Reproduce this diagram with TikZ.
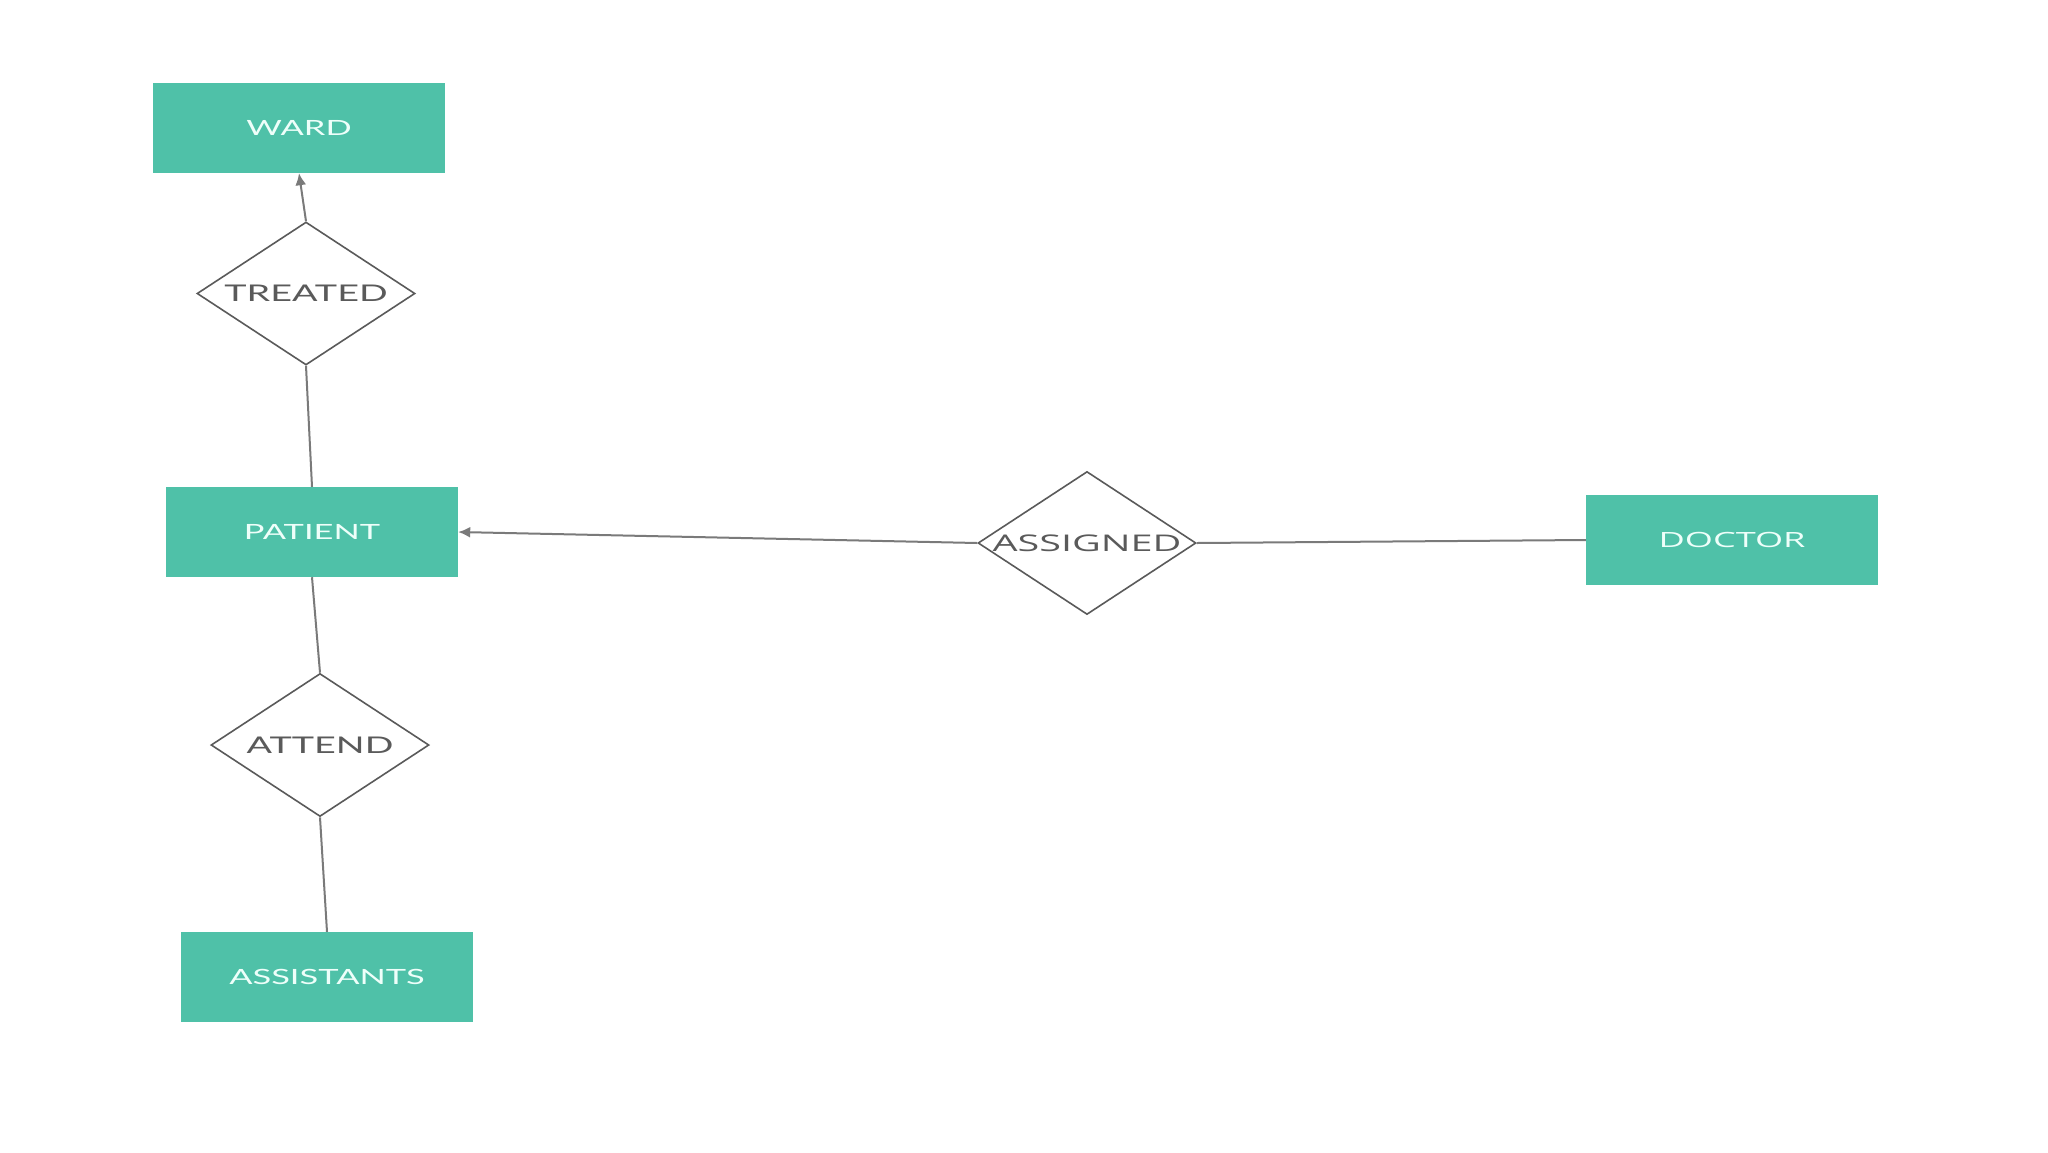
\documentclass[tikz,border=0pt]{standalone}
\usepackage{fontspec}
\setmainfont{Lato}
\newfontfamily\latowide[FakeStretch=1.64]{Lato}
\newfontfamily\openwide[FakeStretch=1.72]{Open Sans}
\usetikzlibrary{shapes.geometric,arrows.meta}
\definecolor{entfill}{HTML}{4FC1A8}
\definecolor{enttext}{HTML}{EEFFFA}
\definecolor{reltext}{HTML}{5A5A5A}
\definecolor{linecol}{HTML}{7A7A7A}
\tikzset{
  entity/.style={rectangle, fill=entfill, minimum width=292pt, minimum height=90pt, inner sep=0pt, text=enttext, font=\latowide\fontsize{21}{25}\selectfont},
  relation/.style={diamond, draw=reltext, line width=1.6pt, fill=white, minimum width=218pt, minimum height=143pt, inner sep=0pt},
  reltxt/.style={text=reltext, font=\latowide\fontsize{23}{27}\selectfont},
  conn/.style={draw=linecol, line width=2pt},
  arr/.style={conn, -{Latex[length=12pt,width=11pt]}}
}
\begin{document}
\begin{tikzpicture}[x=1pt,y=-1pt]
\useasboundingbox[fill=white] (0,0) rectangle (2048,1152);
\node[entity] (ward) at (299,128) {WARD};
\node[relation, label={[reltxt]center:TREATED}] (treated) at (306,293.5) {};
\node[entity] (patient) at (312,532) {PATIENT};
\node[relation, label={[reltxt]center:ATTEND}] (attend) at (320,745) {};
\node[entity] (assistants) at (327,977) {ASSISTANTS};
\node[relation, label={[reltxt,font=\openwide\fontsize{23}{27}\selectfont]center:ASSIGNED}] (assigned) at (1087,543) {};
\node[entity, font=\openwide\fontsize{21}{25}\selectfont] (doctor) at (1732,540) {DOCTOR};
\draw[arr] (treated.north) -- (ward.south);
\draw[conn] (patient.north) -- (treated.south);
\draw[conn] (patient.south) -- (attend.north);
\draw[conn] (attend.south) -- (assistants.north);
\draw[arr] (assigned.west) -- (patient.east);
\draw[conn] (assigned.east) -- (doctor.west);
\end{tikzpicture}
\end{document}
